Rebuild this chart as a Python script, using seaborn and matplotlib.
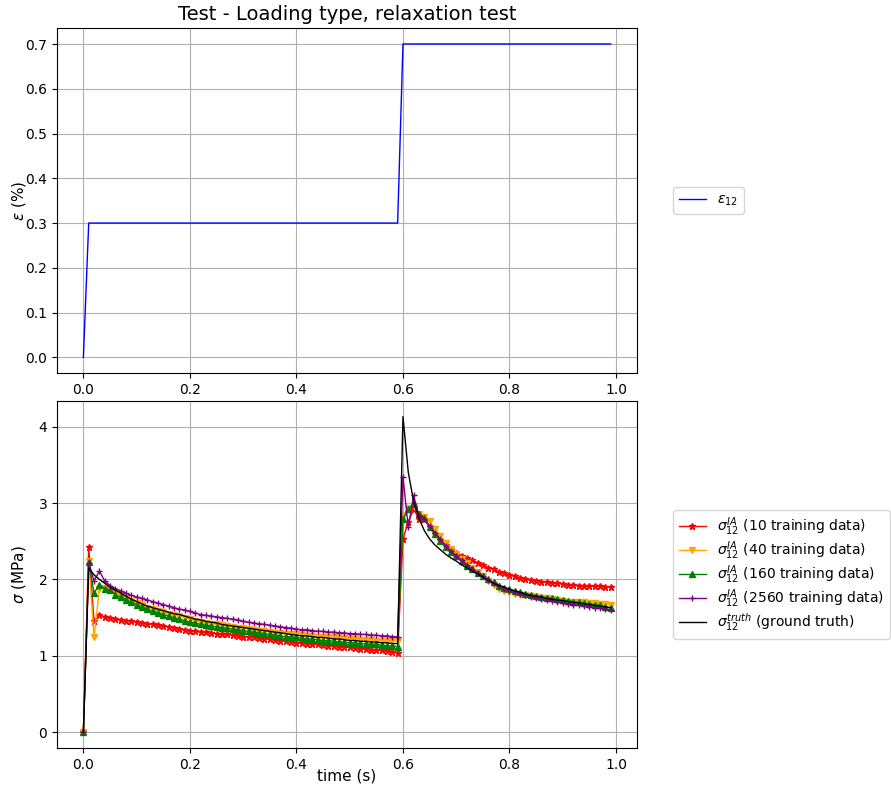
import numpy as np
import matplotlib
matplotlib.use("Agg")
import matplotlib.pyplot as plt
import seaborn as sns

# ─── DATA ──────────────────────────────────────────────────────────────────────
time = np.round(np.arange(100) * 0.01, 2)

strain = [0.0] + [0.3] * 59 + [0.7] * 40

truth = [
    0.00, 2.15, 2.06, 2.00, 1.95, 1.90, 1.86, 1.82, 1.78, 1.74,
    1.71, 1.68, 1.65, 1.63, 1.61, 1.59, 1.57, 1.55, 1.54, 1.52,
    1.50, 1.48, 1.47, 1.45, 1.44, 1.43, 1.41, 1.40, 1.39, 1.38,
    1.37, 1.36, 1.35, 1.34, 1.33, 1.32, 1.31, 1.30, 1.29, 1.28,
    1.27, 1.26, 1.26, 1.25, 1.24, 1.24, 1.23, 1.22, 1.22, 1.21,
    1.20, 1.20, 1.19, 1.19, 1.18, 1.18, 1.17, 1.17, 1.16, 1.16,
    4.13, 3.40, 3.02, 2.80, 2.64, 2.53, 2.45, 2.39, 2.33, 2.28,
    2.24, 2.19, 2.15, 2.11, 2.07, 2.03, 1.99, 1.95, 1.92, 1.90,
    1.87, 1.85, 1.83, 1.81, 1.79, 1.78, 1.77, 1.75, 1.74, 1.73,
    1.72, 1.71, 1.70, 1.69, 1.68, 1.67, 1.66, 1.65, 1.64, 1.63,
]

ia_10 = [
    0.00, 2.42, 1.45, 1.53, 1.51, 1.49, 1.48, 1.47, 1.46, 1.45,
    1.44, 1.43, 1.42, 1.41, 1.40, 1.39, 1.38, 1.37, 1.35, 1.34,
    1.33, 1.32, 1.31, 1.31, 1.30, 1.29, 1.28, 1.28, 1.27, 1.26,
    1.25, 1.25, 1.24, 1.23, 1.22, 1.22, 1.21, 1.20, 1.19, 1.18,
    1.17, 1.17, 1.16, 1.15, 1.15, 1.14, 1.13, 1.13, 1.12, 1.11,
    1.11, 1.10, 1.09, 1.09, 1.08, 1.08, 1.07, 1.06, 1.05, 1.04,
    2.53, 2.75, 2.92, 2.79, 2.79, 2.68, 2.59, 2.52, 2.45, 2.39,
    2.35, 2.31, 2.28, 2.25, 2.22, 2.19, 2.15, 2.13, 2.10, 2.08,
    2.06, 2.04, 2.02, 2.01, 1.99, 1.98, 1.97, 1.96, 1.95, 1.95,
    1.94, 1.93, 1.93, 1.92, 1.92, 1.91, 1.91, 1.91, 1.90, 1.90,
]

ia_40 = [
    0.00, 2.24, 1.25, 1.87, 1.89, 1.86, 1.83, 1.79, 1.75, 1.72,
    1.69, 1.66, 1.63, 1.61, 1.59, 1.57, 1.55, 1.53, 1.52, 1.50,
    1.48, 1.46, 1.44, 1.43, 1.42, 1.41, 1.40, 1.39, 1.38, 1.37,
    1.36, 1.35, 1.34, 1.33, 1.32, 1.31, 1.30, 1.30, 1.29, 1.28,
    1.28, 1.27, 1.26, 1.26, 1.25, 1.25, 1.24, 1.24, 1.23, 1.23,
    1.22, 1.22, 1.21, 1.21, 1.21, 1.20, 1.20, 1.19, 1.19, 1.19,
    2.83, 2.93, 2.96, 2.86, 2.82, 2.76, 2.66, 2.57, 2.48, 2.40,
    2.33, 2.27, 2.21, 2.15, 2.10, 2.04, 1.98, 1.93, 1.88, 1.85,
    1.83, 1.81, 1.80, 1.79, 1.78, 1.77, 1.76, 1.75, 1.74, 1.73,
    1.72, 1.71, 1.71, 1.70, 1.70, 1.69, 1.69, 1.68, 1.68, 1.67,
]

ia_160 = [
    0.00, 2.23, 1.82, 1.93, 1.88, 1.86, 1.80, 1.77, 1.73, 1.70,
    1.67, 1.64, 1.61, 1.58, 1.56, 1.54, 1.52, 1.50, 1.48, 1.46,
    1.44, 1.43, 1.41, 1.40, 1.39, 1.38, 1.37, 1.36, 1.35, 1.34,
    1.33, 1.32, 1.31, 1.30, 1.29, 1.28, 1.27, 1.26, 1.25, 1.25,
    1.24, 1.23, 1.22, 1.22, 1.21, 1.20, 1.20, 1.19, 1.18, 1.18,
    1.17, 1.17, 1.16, 1.16, 1.15, 1.15, 1.14, 1.13, 1.13, 1.12,
    2.79, 2.92, 2.99, 2.86, 2.81, 2.68, 2.59, 2.50, 2.42, 2.36,
    2.30, 2.24, 2.18, 2.13, 2.08, 2.04, 2.00, 1.96, 1.92, 1.89,
    1.87, 1.85, 1.83, 1.81, 1.80, 1.78, 1.77, 1.76, 1.75, 1.74,
    1.73, 1.72, 1.71, 1.70, 1.69, 1.68, 1.67, 1.66, 1.64, 1.63,
]

ia_2560 = [
    0.00, 2.22, 1.98, 2.11, 1.98, 1.92, 1.88, 1.85, 1.82, 1.79,
    1.77, 1.75, 1.73, 1.71, 1.69, 1.67, 1.65, 1.63, 1.61, 1.60,
    1.58, 1.56, 1.54, 1.53, 1.52, 1.51, 1.50, 1.49, 1.48, 1.47,
    1.45, 1.44, 1.43, 1.42, 1.41, 1.40, 1.39, 1.38, 1.37, 1.36,
    1.35, 1.34, 1.34, 1.33, 1.32, 1.32, 1.31, 1.31, 1.30, 1.30,
    1.29, 1.29, 1.28, 1.28, 1.27, 1.27, 1.26, 1.26, 1.25, 1.25,
    3.34, 2.68, 3.10, 2.83, 2.79, 2.70, 2.61, 2.53, 2.44, 2.37,
    2.31, 2.25, 2.19, 2.14, 2.09, 2.04, 1.99, 1.95, 1.91, 1.88,
    1.85, 1.83, 1.81, 1.79, 1.77, 1.76, 1.74, 1.73, 1.72, 1.70,
    1.69, 1.68, 1.67, 1.66, 1.65, 1.64, 1.63, 1.62, 1.61, 1.60,
]

ia_series = [
    (ia_10,   'red',    '*', r'$\sigma_{12}^{IA}$ (10 training data)'),
    (ia_40,   'orange', 'v', r'$\sigma_{12}^{IA}$ (40 training data)'),
    (ia_160,  'green',  '^', r'$\sigma_{12}^{IA}$ (160 training data)'),
    (ia_2560, 'purple', '+', r'$\sigma_{12}^{IA}$ (2560 training data)'),
]

# ─── PLOT ──────────────────────────────────────────────────────────────────────
plt.rcParams['font.size'] = 10

fig = plt.figure(figsize=(8.91, 7.87), dpi=100)
ax1 = fig.add_axes([0.064, 0.526, 0.651, 0.438])
ax2 = fig.add_axes([0.064, 0.0496, 0.651, 0.441])

sns.lineplot(x=time, y=strain, ax=ax1, color='blue', linewidth=1,
             label=r'$\varepsilon_{12}$')
ax1.set_title("Test - Loading type, relaxation test", fontsize=14)
ax1.set_ylabel(r'$\varepsilon$ (%)', fontsize=11)
ax1.yaxis.set_label_coords(-0.05, 0.5)
ax1.grid(True)
ax1.legend(loc='center left', bbox_to_anchor=(1.05, 0.5), fontsize=10)

for vals, col, mk, lab in ia_series:
    sns.lineplot(x=time, y=vals, ax=ax2, color=col, linewidth=1,
                 marker=mk, markersize=5, markeredgecolor=col,
                 markeredgewidth=1, label=lab)
sns.lineplot(x=time, y=truth, ax=ax2, color='black', linewidth=1,
             label=r'$\sigma_{12}^{truth}$ (ground truth)')
ax2.set_xlabel("time (s)", fontsize=11)
ax2.xaxis.set_label_coords(0.5, -0.058)
ax2.set_ylabel(r'$\sigma$ (MPa)', fontsize=11)
ax2.yaxis.set_label_coords(-0.05, 0.5)
ax2.grid(True)
ax2.legend(loc='center left', bbox_to_anchor=(1.05, 0.5), fontsize=10,
           labelspacing=0.1)

fig.savefig("out.png", dpi=100)
